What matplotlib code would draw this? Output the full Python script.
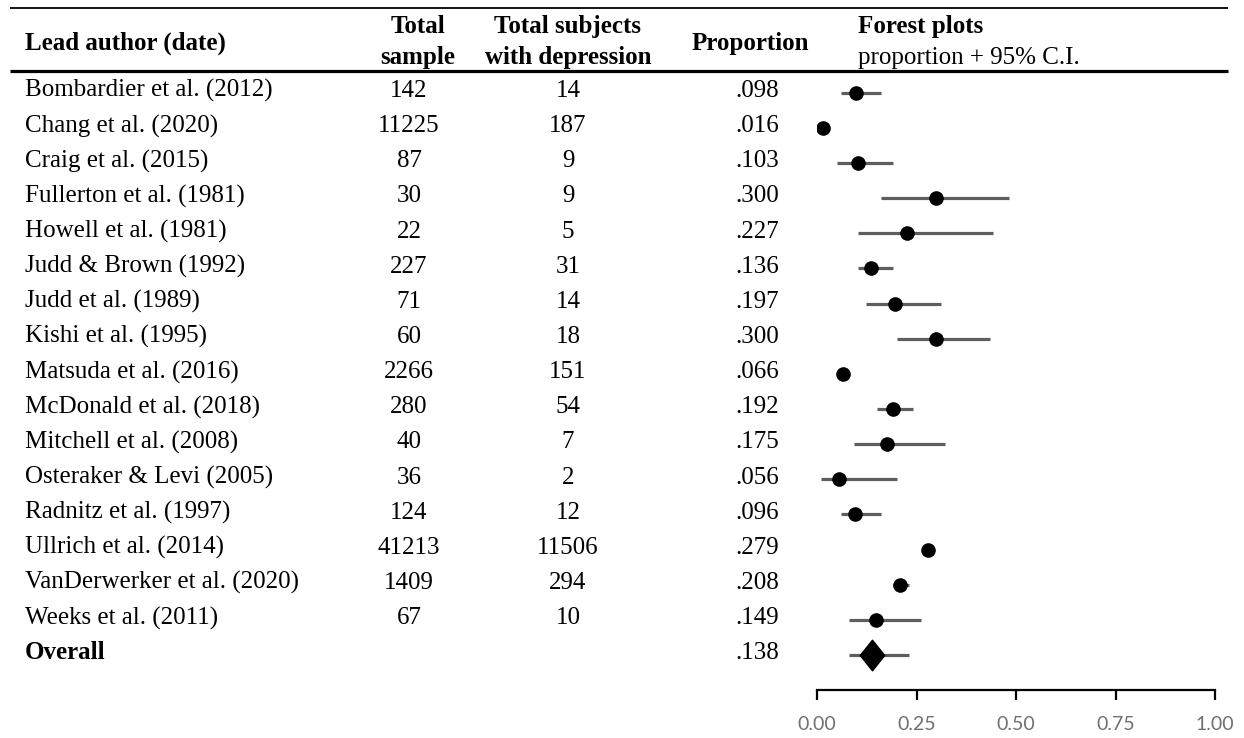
import numpy as np
import matplotlib.pyplot as plt
from matplotlib.path import Path

authors = ["Bombardier et al. (2012)", "Chang et al. (2020)", "Craig et al. (2015)",
           "Fullerton et al. (1981)", "Howell et al. (1981)", "Judd & Brown (1992)",
           "Judd et al. (1989)", "Kishi et al. (1995)", "Matsuda et al. (2016)",
           "McDonald et al. (2018)", "Mitchell et al. (2008)", "Osteraker & Levi (2005)",
           "Radnitz et al. (1997)", "Ullrich et al. (2014)", "VanDerwerker et al. (2020)",
           "Weeks et al. (2011)"]
total_sample = [142, 11225, 87, 30, 22, 227, 71, 60, 2266, 280, 40, 36, 124, 41213, 1409, 67]
n_depressed = [14, 187, 9, 9, 5, 31, 14, 18, 151, 54, 7, 2, 12, 11506, 294, 10]
proportion = [.098, .016, .103, .300, .227, .136, .197, .300, .066, .192, .175, .056,
              .096, .279, .208, .149]
ci_low = [.061, .014, .051, .162, .103, .103, .123, .202, .056, .152, .092, .011,
          .060, .275, .191, .080]
ci_high = [.161, .019, .191, .482, .442, .191, .312, .434, .076, .241, .322, .201,
           .161, .283, .231, .261]
overall = .138
overall_low, overall_high = .080, .231
xticks = [0.00, 0.25, 0.50, 0.75, 1.00]

W, H = 1244, 738
serif = "Liberation Serif"
fs = 18

fig = plt.figure(figsize=(W / 100, H / 100), dpi=100)

# row r (marker centre) sits at pixel 92.7 + 35.14*r, axis line at pixel 690
bottom_px = 690
row0, step = 92.7, 35.14
ylim = ((bottom_px - row0) / step, -row0 / step)
ax_pos = [0, (H - bottom_px) / H, 1, bottom_px / H]

tab = fig.add_axes(ax_pos)
tab.set_xlim(0, W)
tab.set_ylim(*ylim)
tab.axis("off")


def ry(px):
    return (px - row0) / step


# header rules
tab.plot([10, 1228], [ry(8), ry(8)], color="black", lw=1.3, solid_capstyle="butt")
tab.plot([10, 1228], [ry(71), ry(71)], color="black", lw=2.3, solid_capstyle="butt")

hd = dict(family=serif, fontsize=fs, fontweight="bold", va="baseline")
tab.text(25, ry(50), "Lead author (date)", ha="left", **hd)
tab.text(418, ry(33), "Total", ha="center", **hd)
tab.text(418, ry(64), "sample", ha="center", **hd)
tab.text(568, ry(33), "Total subjects", ha="center", **hd)
tab.text(568, ry(64), "with depression", ha="center", **hd)
tab.text(750, ry(50), "Proportion", ha="center", **hd)
tab.text(858, ry(33), "Forest plots", ha="left", **hd)
tab.text(858, ry(64), "proportion + 95% C.I.", ha="left", va="baseline",
         family=serif, fontsize=fs)

body = dict(family=serif, fontsize=fs, va="baseline")
off = 4.3 / step
for i, name in enumerate(authors):
    tab.text(25, i + off, name, ha="left", **body)
    tab.text(409, i + off, str(total_sample[i]), ha="center", **body)
    tab.text(568, i + off, str(n_depressed[i]), ha="center", **body)
    tab.text(757, i + off, f"{proportion[i]:.3f}".lstrip("0"), ha="center", **body)
n = len(authors)
tab.text(25, n + off, "Overall", ha="left", fontweight="bold", **body)
tab.text(757, n + off, f"{overall:.3f}".lstrip("0"), ha="center", **body)

# forest plot
fx0, fx1 = 817, 1215
ax = fig.add_axes([fx0 / W, ax_pos[1], (fx1 - fx0) / W, ax_pos[3]])
ax.set_xlim(0, 1)
ax.set_ylim(*ylim)
ax.patch.set_alpha(0)
rows = np.arange(n)
ax.hlines(rows, ci_low, ci_high, color="#5e5e5e", lw=2.3)
ax.plot(proportion, rows, "o", color="black", ms=9.5)
ax.hlines(n, overall_low, overall_high, color="#5e5e5e", lw=2.3)
diamond = Path([(-0.8, 0), (0, 1), (0.8, 0), (0, -1), (-0.8, 0)],
               [Path.MOVETO, Path.LINETO, Path.LINETO, Path.LINETO, Path.CLOSEPOLY])
ax.plot([overall], [n], marker=diamond, color="black", ms=22, ls="none")

for s in ["top", "right", "left"]:
    ax.spines[s].set_visible(False)
ax.spines["bottom"].set_linewidth(1.6)
ax.set_yticks([])
ax.set_xticks(xticks)
ax.set_xticklabels([f"{t:.2f}" for t in xticks])
ax.tick_params(axis="x", direction="out", length=7, width=1.6, pad=12,
               labelsize=14, labelcolor="#707070")
for lab in ax.get_xticklabels():
    lab.set_family("Lato")

fig.savefig("out.png", dpi=100)
